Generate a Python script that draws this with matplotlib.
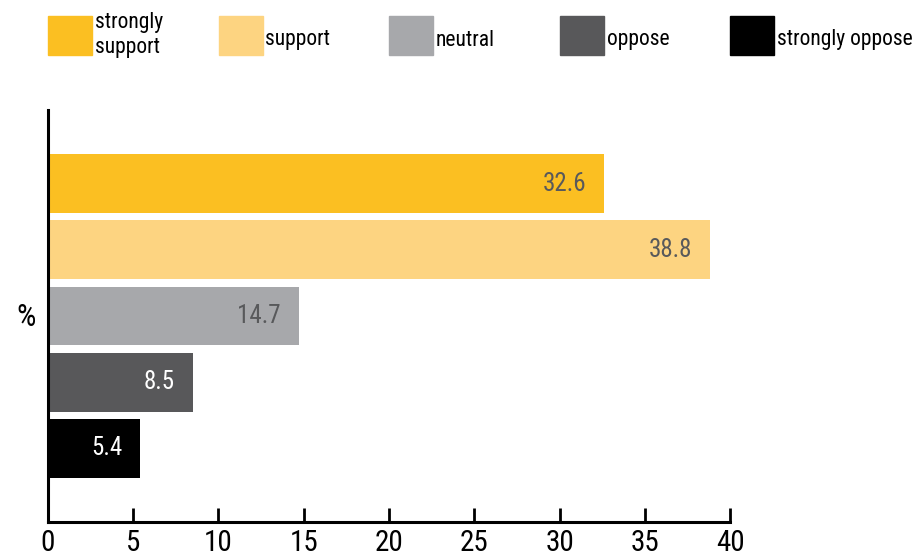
import matplotlib
matplotlib.use("Agg")
import matplotlib.pyplot as plt
from matplotlib.patches import Rectangle

plt.rcParams['font.family'] = ['Roboto Condensed', 'Liberation Sans Narrow', 'DejaVu Sans']
plt.rcParams['font.stretch'] = 'condensed'

categories = ['strongly\nsupport', 'support', 'neutral', 'oppose', 'strongly oppose']
values = [32.6, 38.8, 14.7, 8.5, 5.4]
colors = ['#FBBF22', '#FDD481', '#A7A8AB', '#58585A', '#000000']
label_colors = ['#58595B', '#58595B', '#58595B', '#FFFFFF', '#FFFFFF']
xticks = [0, 5, 10, 15, 20, 25, 30, 35, 40]

fig = plt.figure(figsize=(9.14, 5.57), dpi=100)
ax = fig.add_axes([0.0525, 0.0628, 0.7462, 0.7397])

ypos = list(range(len(values)))
bars = ax.barh(ypos, values, height=0.89, color=colors)

for i, (v, b) in enumerate(zip(values, bars)):
    ax.text(v - 1.05, i, '%.1f' % v, ha='right', va='center',
            fontsize=18, color=label_colors[i])

ax.set_xlim(0, 40)
ax.set_ylim(5.11, -1.11)
ax.set_xticks(xticks)
ax.set_xticklabels([str(t) for t in xticks], fontsize=21)
ax.set_yticks([])
ax.tick_params(axis='x', direction='in', length=10, width=2, pad=5)
for s in ['top', 'right']:
    ax.spines[s].set_visible(False)
for s in ['left', 'bottom']:
    ax.spines[s].set_linewidth(2.2)

fig.text(0.029, 1 - 318 / 557, '%', fontsize=22, ha='center', va='center')

# legend built by hand across the top
for i, (name, c) in enumerate(zip(categories, colors)):
    x0 = 48 + i * 170.5
    fig.patches.append(Rectangle((x0 / 914, 1 - 55 / 557), 44 / 914, 39 / 557,
                                 transform=fig.transFigure, color=c))
    yc = 35 if '\n' in name else 40
    fig.text((x0 + 47) / 914, 1 - yc / 557, name, fontsize=15.5,
             ha='left', va='center', linespacing=1.2)

fig.savefig('out.png', dpi=100)
